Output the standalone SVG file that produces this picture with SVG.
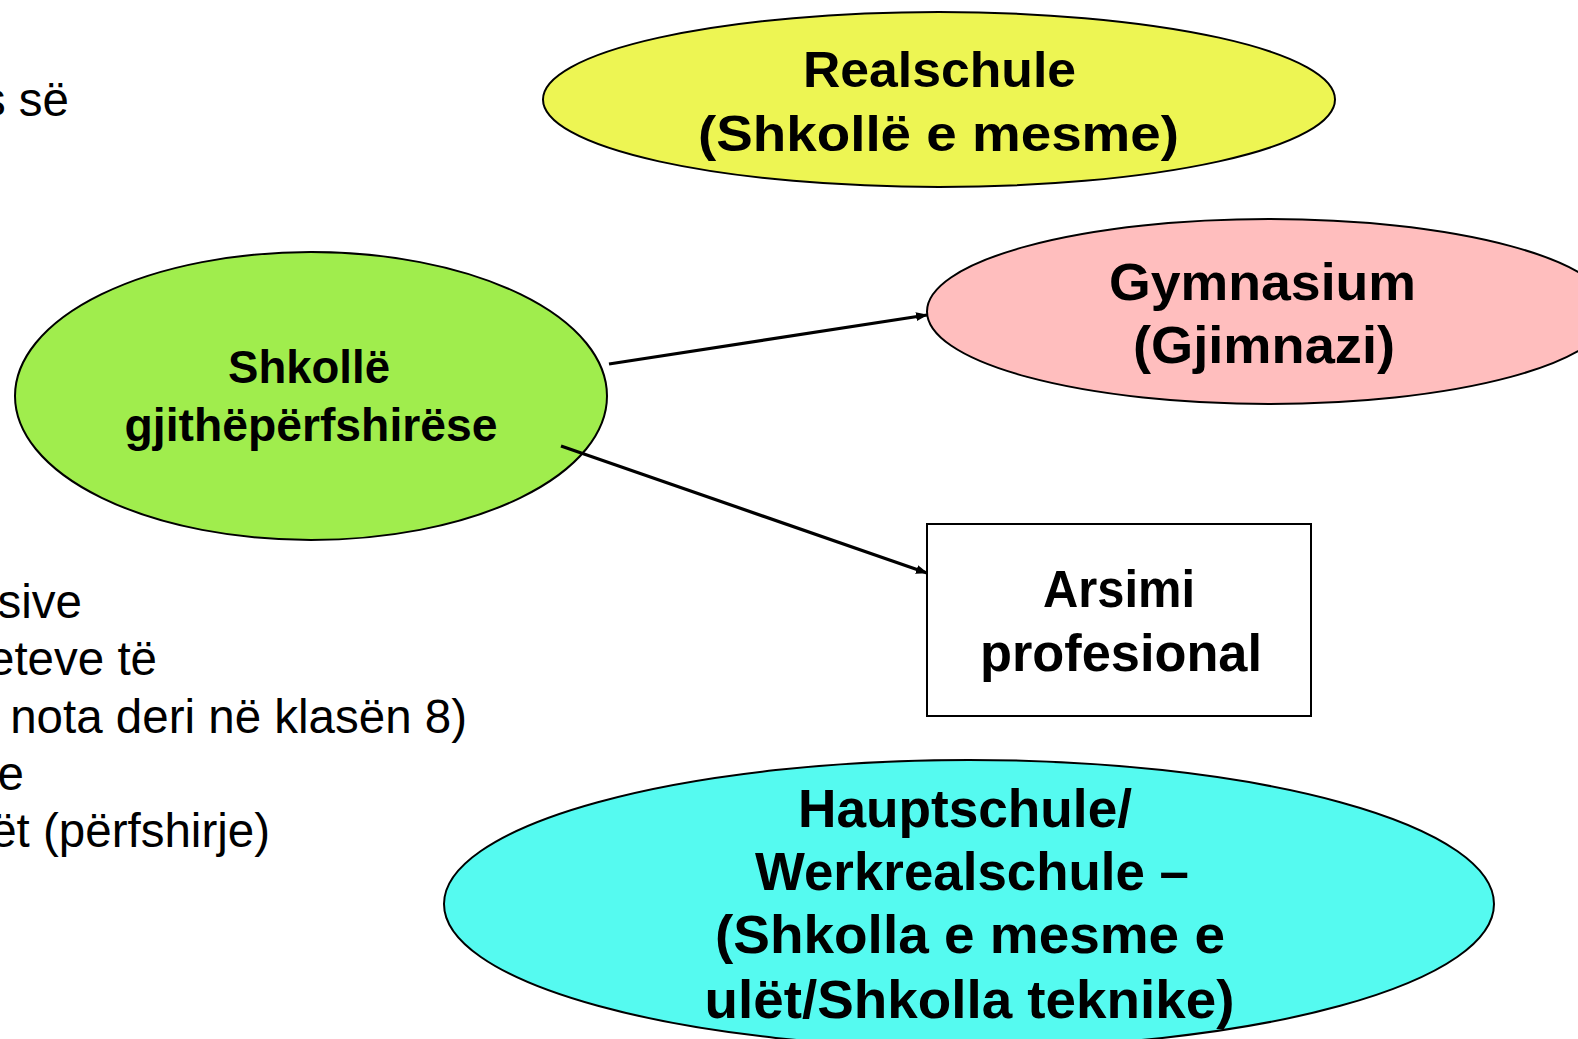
<svg xmlns="http://www.w3.org/2000/svg" width="1578" height="1039" viewBox="0 0 1578 1039">
  <style>
    .bg { fill: #ffffff; }
    .node-shape { stroke: #000000; stroke-width: 2; }
    .label { font-family: "Century Gothic", "Liberation Sans", Arial, sans-serif; font-weight: bold; fill: #000000; text-anchor: middle; }
    .body { font-family: "Liberation Sans", Arial, sans-serif; font-size: 47.5px; fill: #000000; text-anchor: end; }
    .conn { stroke: #000000; stroke-width: 3.2; fill: none; }
  </style>
  <defs>
    <marker id="arrow" viewBox="0 0 12 9" refX="11" refY="4.5" markerWidth="12" markerHeight="9" markerUnits="userSpaceOnUse" orient="auto">
      <path d="M0,0 L12,4.5 L0,9 Z" fill="#000000"/>
    </marker>
  </defs>
  <rect class="bg" x="0" y="0" width="1578" height="1039"/>

  <g id="background-text">
    <text class="body" x="69" y="116">s së</text>
    <text class="body" x="82" y="618">sive</text>
    <text class="body" x="157" y="675">eteve të</text>
    <text class="body" x="467" y="733">nota deri në klasën 8)</text>
    <text class="body" x="24" y="790">e</text>
    <text class="body" x="270" y="847">ët (përfshirje)</text>
  </g>

  <g id="node-realschule">
    <ellipse class="node-shape" cx="939" cy="99.5" rx="396" ry="87.5" fill="#EDF553"/>
    <text class="label" x="939.5" y="87" font-size="50" textLength="273" lengthAdjust="spacingAndGlyphs">Realschule</text>
    <text class="label" x="938.5" y="151" font-size="50" textLength="481" lengthAdjust="spacingAndGlyphs">(Shkollë e mesme)</text>
  </g>

  <g id="node-gymnasium">
    <ellipse class="node-shape" cx="1269" cy="311.5" rx="342" ry="92.5" fill="#FFBEBE"/>
    <text class="label" x="1262.5" y="300" font-size="52" textLength="307" lengthAdjust="spacingAndGlyphs">Gymnasium</text>
    <text class="label" x="1264" y="363" font-size="52" textLength="262" lengthAdjust="spacingAndGlyphs">(Gjimnazi)</text>
  </g>

  <g id="node-gesamtschule">
    <ellipse class="node-shape" cx="311" cy="396" rx="296" ry="144" fill="#A0ED4D"/>
    <text class="label" x="309" y="383" font-size="46" textLength="162" lengthAdjust="spacingAndGlyphs">Shkollë</text>
    <text class="label" x="311" y="441" font-size="46" textLength="373" lengthAdjust="spacingAndGlyphs">gjithëpërfshirëse</text>
  </g>

  <g id="node-arsimi">
    <rect class="node-shape" x="927" y="524" width="384" height="192" fill="#FFFFFF"/>
    <text class="label" x="1119" y="607" font-size="51" textLength="152" lengthAdjust="spacingAndGlyphs">Arsimi</text>
    <text class="label" x="1121" y="671" font-size="51" textLength="282" lengthAdjust="spacingAndGlyphs">profesional</text>
  </g>

  <g id="node-hauptschule">
    <ellipse class="node-shape" cx="969" cy="904" rx="525" ry="144" fill="#55FAF0"/>
    <text class="label" x="965" y="827" font-size="53" textLength="334" lengthAdjust="spacingAndGlyphs">Hauptschule/</text>
    <text class="label" x="972" y="890" font-size="53" textLength="434" lengthAdjust="spacingAndGlyphs">Werkrealschule –</text>
    <text class="label" x="970" y="953" font-size="53" textLength="510" lengthAdjust="spacingAndGlyphs">(Shkolla e mesme e</text>
    <text class="label" x="969.5" y="1018" font-size="53" textLength="530" lengthAdjust="spacingAndGlyphs">ulët/Shkolla teknike)</text>
  </g>

  <g id="connectors">
    <line class="conn" x1="609" y1="364" x2="927" y2="315" marker-end="url(#arrow)"/>
    <line class="conn" x1="561" y1="446" x2="927" y2="573" marker-end="url(#arrow)"/>
  </g>
</svg>
